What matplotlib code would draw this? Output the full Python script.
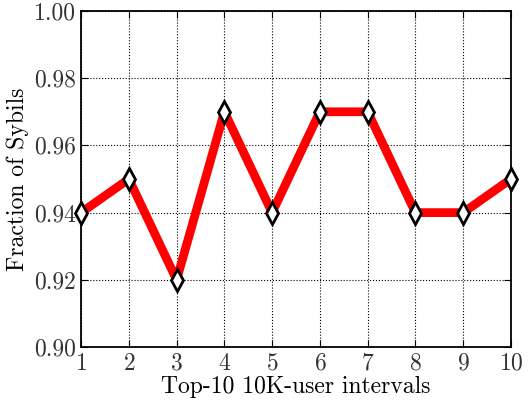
import matplotlib
matplotlib.use('Agg')
import matplotlib.pyplot as plt

intervals = [1, 2, 3, 4, 5, 6, 7, 8, 9, 10]
sybil_frac = [0.94, 0.95, 0.92, 0.97, 0.94, 0.97, 0.97, 0.94, 0.94, 0.95]
yticks = [0.90, 0.92, 0.94, 0.96, 0.98, 1.00]

plt.rcParams['font.family'] = 'cmr10'
plt.rcParams['mathtext.fontset'] = 'cm'
plt.rcParams['axes.formatter.use_mathtext'] = True

fig, ax = plt.subplots(figsize=(5.3, 4.05), dpi=100)
fig.subplots_adjust(left=0.153, right=0.964, top=0.973, bottom=0.143)

ax.plot(intervals, sybil_frac, color='red', lw=6.3, marker='d', markersize=11,
        markerfacecolor='white', markeredgecolor='black', markeredgewidth=2,
        clip_on=False, zorder=3)

ax.set_xlim(1, 10)
ax.set_ylim(0.90, 1.00)
ax.set_xticks(intervals)
ax.set_yticks(yticks)
ax.set_yticklabels([f'{v:.2f}' for v in yticks])
ax.grid(True, color='black', linestyle=':', linewidth=0.8)
ax.tick_params(direction='in', top=True, right=True, labelsize=17, length=5, pad=4,
               labelcolor='#333333')
for s in ax.spines.values():
    s.set_linewidth(1.3)

ax.set_xlabel('Top-10 10K-user intervals', fontsize=17, labelpad=1)
ax.set_ylabel('Fraction of Sybils', fontsize=17, labelpad=3)

plt.savefig('out.png', dpi=100)
